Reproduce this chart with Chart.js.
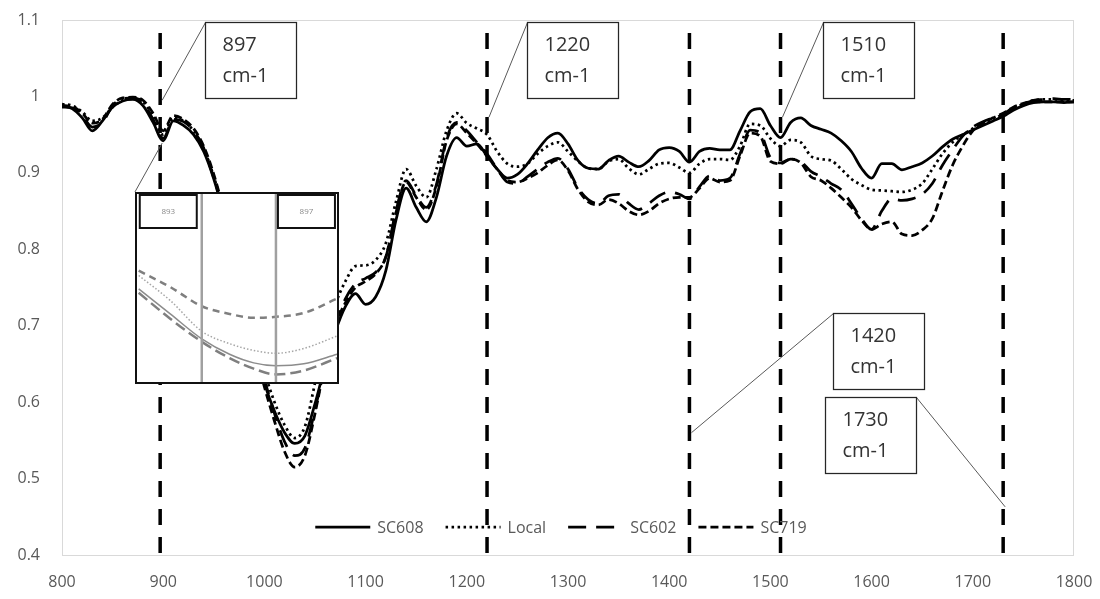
<!DOCTYPE html>
<html>
<head>
<meta charset="utf-8">
<script src="https://cdn.jsdelivr.net/npm/chart.js@4.4.1/dist/chart.umd.min.js"></script>
<style>
  html, body { margin: 0; padding: 0; background: #fff; }
  #wrap { position: relative; width: 1100px; height: 599px; overflow: hidden; }
  #main { position: absolute; left: 0; top: 0; }
  #inset { position: absolute; left: 135px; top: 192px; }
</style>
</head>
<body>
<div id="wrap">
  <canvas id="main" width="1100" height="599"></canvas>
  <canvas id="inset" width="204" height="192"></canvas>
</div>
<script>
// ---- Spectra (wavenumber in cm-1, transmittance) ----
const wavenumbers = [
  800, 810, 820, 830, 840, 850, 860, 870, 880, 890,
  900, 910, 920, 930, 940, 950, 960, 970, 980, 990,
  1000, 1010, 1020, 1030, 1040, 1050, 1060, 1070, 1080, 1090,
  1100, 1110, 1120, 1130, 1140, 1150, 1160, 1170, 1180, 1190,
  1200, 1210, 1220, 1230, 1240, 1250, 1260, 1270, 1280, 1290,
  1300, 1310, 1320, 1330, 1340, 1350, 1360, 1370, 1380, 1390,
  1400, 1410, 1420, 1430, 1440, 1450, 1460, 1470, 1480, 1490,
  1500, 1510, 1520, 1530, 1540, 1550, 1560, 1570, 1580, 1590,
  1600, 1610, 1620, 1630, 1640, 1650, 1660, 1670, 1680, 1690,
  1700, 1710, 1720, 1730, 1740, 1750, 1760, 1770, 1780, 1790,
  1800
];

const sc608 = [
  0.988, 0.984, 0.972, 0.955, 0.968, 0.986, 0.994, 0.996, 0.988, 0.966,
  0.942, 0.968, 0.962, 0.950, 0.928, 0.892, 0.845, 0.790, 0.730, 0.675,
  0.625, 0.588, 0.560, 0.546, 0.556, 0.598, 0.648, 0.692, 0.725, 0.742,
  0.728, 0.738, 0.772, 0.838, 0.880, 0.855, 0.836, 0.868, 0.922, 0.946,
  0.935, 0.938, 0.922, 0.905, 0.893, 0.898, 0.912, 0.930, 0.946, 0.952,
  0.938, 0.916, 0.906, 0.905, 0.916, 0.922, 0.914, 0.908, 0.916, 0.930,
  0.933, 0.928, 0.914, 0.928, 0.932, 0.930, 0.930, 0.955, 0.980, 0.984,
  0.962, 0.946, 0.966, 0.972, 0.962, 0.957, 0.952, 0.942, 0.928, 0.906,
  0.893, 0.912, 0.912, 0.904, 0.908, 0.913, 0.922, 0.934, 0.944, 0.950,
  0.956, 0.962, 0.968, 0.974, 0.982, 0.988, 0.992, 0.993, 0.993, 0.992,
  0.993
];

const local = [
  0.990, 0.988, 0.980, 0.968, 0.972, 0.986, 0.995, 0.998, 0.993, 0.974,
  0.950, 0.972, 0.968, 0.955, 0.932, 0.895, 0.850, 0.800, 0.740, 0.690,
  0.640, 0.600, 0.570, 0.553, 0.568, 0.625, 0.688, 0.728, 0.758, 0.778,
  0.779, 0.786, 0.808, 0.862, 0.905, 0.883, 0.868, 0.905, 0.955, 0.978,
  0.965, 0.958, 0.950, 0.928, 0.912, 0.908, 0.912, 0.925, 0.935, 0.940,
  0.928, 0.915, 0.906, 0.905, 0.915, 0.918, 0.906, 0.898, 0.905, 0.912,
  0.913, 0.907, 0.900, 0.912, 0.918, 0.918, 0.917, 0.935, 0.964, 0.962,
  0.945, 0.935, 0.943, 0.940, 0.922, 0.918, 0.916, 0.905, 0.892, 0.884,
  0.878, 0.877, 0.876, 0.875, 0.878, 0.886, 0.905, 0.925, 0.940, 0.950,
  0.958, 0.965, 0.970, 0.977, 0.985, 0.990, 0.995, 0.996, 0.996, 0.995,
  0.995
];

const sc602 = [
  0.986, 0.985, 0.975, 0.960, 0.966, 0.988, 0.997, 0.998, 0.992, 0.970,
  0.945, 0.970, 0.967, 0.955, 0.932, 0.893, 0.848, 0.795, 0.735, 0.680,
  0.630, 0.585, 0.548, 0.530, 0.540, 0.590, 0.650, 0.700, 0.735, 0.755,
  0.762, 0.770, 0.790, 0.850, 0.890, 0.870, 0.855, 0.885, 0.945, 0.966,
  0.955, 0.940, 0.925, 0.905, 0.888, 0.886, 0.895, 0.905, 0.914, 0.919,
  0.905, 0.880, 0.865, 0.860, 0.870, 0.872, 0.860, 0.852, 0.860, 0.870,
  0.875, 0.872, 0.866, 0.882, 0.896, 0.890, 0.893, 0.925, 0.956, 0.952,
  0.920, 0.913, 0.918, 0.915, 0.902, 0.895, 0.886, 0.878, 0.860, 0.840,
  0.826, 0.850, 0.866, 0.864, 0.866, 0.872, 0.886, 0.910, 0.930, 0.948,
  0.960, 0.967, 0.972, 0.977, 0.985, 0.990, 0.995, 0.996, 0.997, 0.996,
  0.996
];

const sc719 = [
  0.988, 0.987, 0.978, 0.965, 0.970, 0.990, 0.998, 0.999, 0.995, 0.978,
  0.955, 0.975, 0.970, 0.958, 0.935, 0.898, 0.850, 0.795, 0.730, 0.670,
  0.620, 0.575, 0.535, 0.515, 0.530, 0.585, 0.650, 0.700, 0.730, 0.750,
  0.758, 0.768, 0.790, 0.848, 0.888, 0.868, 0.852, 0.882, 0.942, 0.964,
  0.952, 0.938, 0.922, 0.905, 0.890, 0.888, 0.893, 0.900, 0.910, 0.917,
  0.903, 0.878, 0.862, 0.858, 0.865, 0.860, 0.850, 0.845, 0.850, 0.860,
  0.866, 0.868, 0.868, 0.880, 0.893, 0.888, 0.890, 0.922, 0.952, 0.948,
  0.915, 0.912, 0.918, 0.913, 0.895, 0.890, 0.880, 0.868, 0.855, 0.838,
  0.826, 0.833, 0.836, 0.820, 0.818, 0.825, 0.840, 0.876, 0.910, 0.935,
  0.955, 0.965, 0.972, 0.978, 0.986, 0.991, 0.993, 0.993, 0.993, 0.993,
  0.993
];

// Band positions marked with vertical dashed lines (cm-1)
const bandPositions = [897, 1220, 1420, 1510, 1730];
const bandLabels = ['897\ncm-1', '1220\ncm-1', '1420\ncm-1', '1510\ncm-1', '1730\ncm-1'];

// Axis ticks
const xTicks = [800, 900, 1000, 1100, 1200, 1300, 1400, 1500, 1600, 1700, 1800];
const yTicks = [0.4, 0.5, 0.6, 0.7, 0.8, 0.9, 1.0, 1.1];

// ---- Magnified view around 893-897 cm-1 ----
const insetWavenumbers = [889.6, 891.3, 893, 894.5, 895.8, 897, 898.5, 900.3];
const insetSc608 = [0.9399, 0.9373, 0.9347, 0.9331, 0.9322, 0.9319, 0.9321, 0.9331];
const insetLocal = [0.9413, 0.9387, 0.9355, 0.9342, 0.9335, 0.9332, 0.9337, 0.9350];
const insetSc602 = [0.9395, 0.9368, 0.9344, 0.9327, 0.9316, 0.9310, 0.9314, 0.9327];
const insetSc719 = [0.9418, 0.9401, 0.9381, 0.9373, 0.9369, 0.9370, 0.9374, 0.9389];
const insetBands = [893, 897];

// ---------------------------------------------------------------
const FONT = '"Open Sans", "Liberation Sans", sans-serif';
const TICK_GREY = '#595959';

const toPoints = (xs, ys) => xs.map((x, i) => ({ x: x, y: ys[i] }));

const seriesStyles = [
  { label: 'SC608', values: sc608, dash: [] },
  { label: 'Local', values: local, dash: [2.5, 3.5] },
  { label: 'SC602', values: sc602, dash: [18, 10] },
  { label: 'SC719', values: sc719, dash: [8, 4] }
];

const spectrumSets = seriesStyles.map(s => ({
  label: s.label,
  data: toPoints(wavenumbers, s.values),
  borderColor: '#000',
  borderWidth: 2.75,
  borderDash: s.dash,
  pointRadius: 0,
  fill: false,
  cubicInterpolationMode: 'monotone',
  inKey: true
}));

const BAND_TOP = 1.083;
const bandSets = bandPositions.map(p => ({
  label: 'band ' + p,
  data: [{ x: p, y: BAND_TOP }, { x: p, y: 0.4 }],
  borderColor: '#000',
  borderWidth: 3.5,
  borderDash: [16, 12],
  pointRadius: 0,
  fill: false,
  inKey: false
}));

// Callout boxes: box top-left in axis units, anchor on the band line, leader from box corner
const callouts = [
  { band: 897,  anchorY: 0.995, boxX: 941,    boxY: 1.0974, corner: 'tl' },
  { band: 1220, anchorY: 0.973, boxX: 1259.5, boxY: 1.0974, corner: 'tl' },
  { band: 1510, anchorY: 0.973, boxX: 1552,   boxY: 1.0974, corner: 'tl' },
  { band: 1420, anchorY: 0.560, boxX: 1562,   boxY: 0.7166, corner: 'tl' },
  { band: 1730, anchorY: 0.463, boxX: 1554,   boxY: 0.6067, corner: 'tr' }
];
const BOX_W = 91, BOX_H = 76;
// connector from the magnified view's corner to the 897 cm-1 minimum
const zoomLink = { fromX: 872.1, fromY: 0.875, toX: 899, toY: 0.939 };

const noScalePadding = s => {
  s.paddingLeft = 0; s.paddingRight = 0; s.paddingTop = 0; s.paddingBottom = 0;
};

const framePlugin = {
  id: 'plotFrame',
  beforeDatasetsDraw(chart) {
    const a = chart.chartArea, ctx = chart.ctx;
    ctx.save();
    ctx.strokeStyle = '#d9d9d9';
    ctx.lineWidth = 1;
    ctx.strokeRect(Math.round(a.left) + 0.5, Math.round(a.top) + 0.5,
                   Math.round(a.right - a.left) - 1, Math.round(a.bottom - a.top));
    ctx.restore();
  }
};

const calloutPlugin = {
  id: 'bandCallouts',
  afterDatasetsDraw(chart) {
    const ctx = chart.ctx, xs = chart.scales.x, ys = chart.scales.y;
    ctx.save();
    // magnified-view connector
    ctx.strokeStyle = '#595959';
    ctx.lineWidth = 1;
    ctx.beginPath();
    ctx.moveTo(xs.getPixelForValue(zoomLink.fromX), ys.getPixelForValue(zoomLink.fromY));
    ctx.lineTo(xs.getPixelForValue(zoomLink.toX), ys.getPixelForValue(zoomLink.toY));
    ctx.stroke();

    callouts.forEach(c => {
      const idx = bandPositions.indexOf(c.band);
      const lines = bandLabels[idx].split('\n');
      const bx = Math.round(xs.getPixelForValue(c.boxX)) + 0.5;
      const by = Math.round(ys.getPixelForValue(c.boxY)) + 0.5;
      const ax = xs.getPixelForValue(c.band) + 2;
      const ay = ys.getPixelForValue(c.anchorY);
      const cx = c.corner === 'tr' ? bx + BOX_W : bx;
      // leader line
      ctx.strokeStyle = '#595959';
      ctx.lineWidth = 1;
      ctx.setLineDash([]);
      ctx.beginPath();
      ctx.moveTo(cx, by);
      ctx.lineTo(ax, ay);
      ctx.stroke();
      // box
      ctx.fillStyle = '#fff';
      ctx.fillRect(bx, by, BOX_W, BOX_H);
      ctx.strokeStyle = '#262626';
      ctx.lineWidth = 1.25;
      ctx.strokeRect(bx, by, BOX_W, BOX_H);
      // text
      ctx.fillStyle = '#333';
      ctx.font = '20px ' + FONT;
      ctx.textAlign = 'left';
      ctx.textBaseline = 'middle';
      ctx.fillText(lines[0], bx + 17, by + 23);
      ctx.fillText(lines[1], bx + 17, by + 54);
    });
    ctx.restore();
  }
};

const keyPlugin = {
  id: 'seriesKey',
  afterDatasetsDraw(chart) {
    const ctx = chart.ctx, a = chart.chartArea;
    const items = chart.data.datasets.filter(d => d.inKey);
    ctx.save();
    ctx.font = '16px ' + FONT;
    const sample = 55, gap = 7, spacing = 22;
    const total = items.reduce((s, d) => s + sample + gap + ctx.measureText(d.label).width, 0)
                + spacing * (items.length - 1);
    let x = (a.left + a.right) / 2 - 7 - total / 2;
    const y = a.bottom - 28;
    items.forEach(d => {
      ctx.strokeStyle = d.borderColor;
      ctx.lineWidth = d.borderWidth;
      ctx.setLineDash(d.borderDash || []);
      ctx.beginPath();
      ctx.moveTo(x, y);
      ctx.lineTo(x + sample, y);
      ctx.stroke();
      ctx.setLineDash([]);
      ctx.fillStyle = TICK_GREY;
      ctx.textAlign = 'left';
      ctx.textBaseline = 'middle';
      ctx.fillText(d.label, x + sample + gap, y + 1);
      x += sample + gap + ctx.measureText(d.label).width + spacing;
    });
    ctx.restore();
  }
};

new Chart(document.getElementById('main'), {
  type: 'line',
  data: { datasets: [...bandSets, ...spectrumSets] },
  options: {
    responsive: false,
    animation: false,
    devicePixelRatio: 1,
    layout: { padding: { top: 20, right: 26, left: 0, bottom: 0 } },
    plugins: { legend: { display: false }, tooltip: { enabled: false } },
    scales: {
      x: {
        type: 'linear',
        min: xTicks[0],
        max: xTicks[xTicks.length - 1],
        afterBuildTicks(s) { s.ticks = xTicks.map(v => ({ value: v })); },
        ticks: { color: TICK_GREY, font: { family: FONT, size: 16 }, padding: 18, maxRotation: 0,
                 callback: v => String(v) },
        grid: { display: false, drawTicks: false },
        border: { display: false },
        afterFit(s) { s.height = 44; noScalePadding(s); }
      },
      y: {
        type: 'linear',
        min: yTicks[0],
        max: yTicks[yTicks.length - 1],
        afterBuildTicks(s) { s.ticks = yTicks.map(v => ({ value: v })); },
        ticks: { color: TICK_GREY, font: { family: FONT, size: 16 }, padding: 22,
                 callback: v => String(Math.round(v * 10) / 10) },
        grid: { display: false, drawTicks: false },
        border: { display: false },
        afterFit(s) { s.width = 62; noScalePadding(s); }
      }
    }
  },
  plugins: [framePlugin, calloutPlugin, keyPlugin]
});

// ---- Magnified view ----
const insetStyles = [
  { values: insetSc719, color: '#7f7f7f', width: 2.5, dash: [7, 5] },
  { values: insetLocal, color: '#a6a6a6', width: 1.5, dash: [1.5, 2] },
  { values: insetSc608, color: '#8c8c8c', width: 1.5, dash: [] },
  { values: insetSc602, color: '#7f7f7f', width: 2.5, dash: [11, 5] }
];
const INSET_MIN = 0.930, INSET_MAX = 0.950;

const insetSets = [
  ...insetBands.map(b => ({
    data: [{ x: b, y: INSET_MIN }, { x: b, y: INSET_MAX }],
    borderColor: '#a0a0a0', borderWidth: 2.5, pointRadius: 0, fill: false
  })),
  ...insetStyles.map(s => ({
    data: toPoints(insetWavenumbers, s.values),
    borderColor: s.color, borderWidth: s.width, borderDash: s.dash,
    pointRadius: 0, fill: false, cubicInterpolationMode: 'monotone'
  }))
];

const insetDecor = {
  id: 'insetDecor',
  beforeDraw(chart) {
    const ctx = chart.ctx;
    ctx.save();
    ctx.fillStyle = '#fff';
    ctx.fillRect(0, 0, chart.width, chart.height);
    ctx.restore();
  },
  afterDraw(chart) {
    const ctx = chart.ctx, xs = chart.scales.x;
    ctx.save();
    ctx.font = '8px ' + FONT;
    ctx.textAlign = 'center';
    ctx.textBaseline = 'middle';
    insetBands.forEach((b, i) => {
      const px = xs.getPixelForValue(b);
      const left = i === 0 ? px - 62 : px + 2;
      ctx.fillStyle = '#fff';
      ctx.fillRect(left, 3, 57, 33);
      ctx.strokeStyle = '#111';
      ctx.lineWidth = 2;
      ctx.strokeRect(left, 3, 57, 33);
      ctx.fillStyle = '#8a8a8a';
      ctx.fillText(String(b), left + 28.5, 19.5);
    });
    ctx.strokeStyle = '#111';
    ctx.lineWidth = 2;
    ctx.strokeRect(1, 1, chart.width - 2, chart.height - 2);
    ctx.restore();
  }
};

new Chart(document.getElementById('inset'), {
  type: 'line',
  data: { datasets: insetSets },
  options: {
    responsive: false,
    animation: false,
    devicePixelRatio: 1,
    layout: { padding: 0 },
    plugins: { legend: { display: false }, tooltip: { enabled: false } },
    scales: {
      x: { type: 'linear', min: 889.4, max: 900.4, display: false },
      y: { type: 'linear', min: INSET_MIN, max: INSET_MAX, display: false }
    }
  },
  plugins: [insetDecor]
});
</script>
</body>
</html>
